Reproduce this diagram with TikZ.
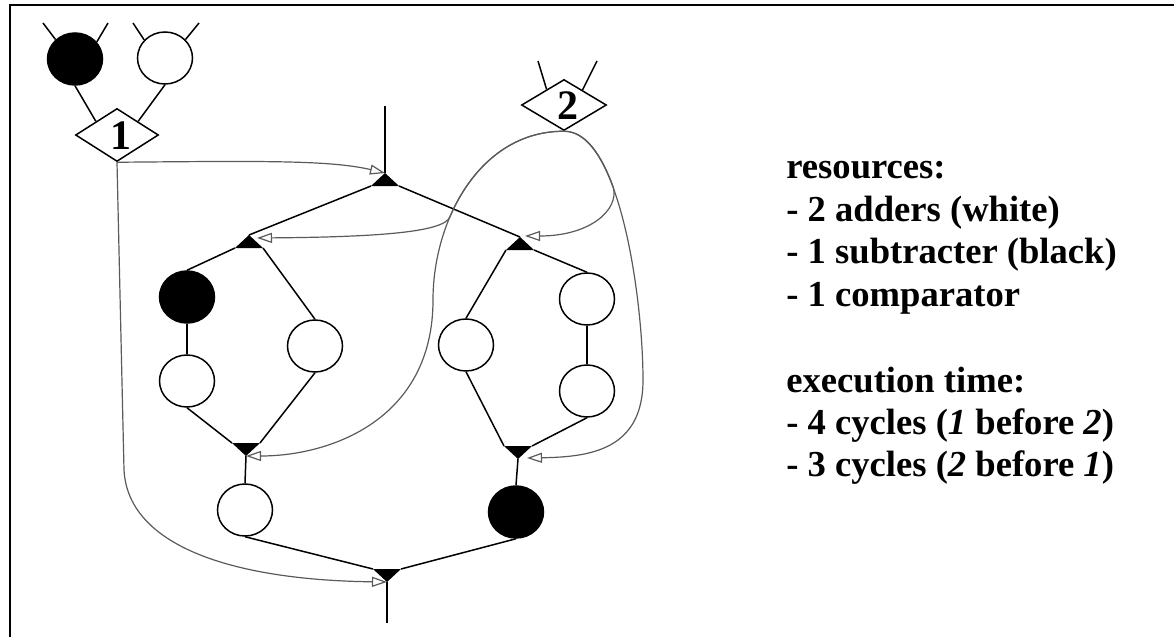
\documentclass[tikz,border=0pt]{standalone}
\usepackage{fontspec}
\setmainfont{Liberation Serif}
\usetikzlibrary{shapes.geometric,arrows.meta,calc}
\definecolor{ctrlgray}{RGB}{90,90,90}
\begin{document}
\begin{tikzpicture}[x=0.5pt,y=-0.5pt,
  wire/.style={line width=0.75pt,draw=black},
  ctrl/.style={line width=0.6pt,draw=ctrlgray,-{Triangle[open,length=7.5pt,width=5pt]}},
  op/.style={ellipse,draw,line width=0.75pt,inner sep=0pt,minimum width=27.5pt,minimum height=26pt},
  add/.style={op,fill=white},
  sub/.style={op,fill=black},
  cmp/.style={diamond,draw,line width=0.75pt,inner sep=0pt,fill=white},
  cmplabel/.style={inner sep=0pt,font=\fontsize{21}{25}\selectfont\bfseries},
  txt/.style={anchor=base west,inner sep=0pt,font=\fontsize{18.3}{21}\selectfont\bfseries},
  fork/.pic={
    \fill (0,0) -- (-14,13) -- (14,13) -- cycle;
    \coordinate (-t) at (0,0);
    \coordinate (-l) at (-14,13);
    \coordinate (-r) at (14,13);
  },
  join/.pic={
    \fill (0,0) -- (-14,-13) -- (14,-13) -- cycle;
    \coordinate (-b) at (0,0);
    \coordinate (-l) at (-14,-13);
    \coordinate (-r) at (14,-13);
  }]
\useasboundingbox (0,0) rectangle (1174,637);

% frame
\draw[line width=0.9pt] (1174,5) -- (10,5) -- (10,637);

% comparators with their operands
\node[sub] (tb) at (75,59) {};
\node[add] (tw) at (165,58) {};
\node[cmp,minimum width=41.5pt,minimum height=26.5pt] (d1) at (117,135) {};
\node[cmplabel] (n1) at (121,136) {1};
\node[cmp,minimum width=42.5pt,minimum height=25.5pt] (d2) at (564,105) {};
\node[cmplabel] (n2) at (568,106) {2};

% operations of the data-flow graph
\node[sub] (L1) at (187,297) {};
\node[add] (L2) at (187,381) {};
\node[add] (M)  at (315,346) {};
\node[add] (LB) at (245,510) {};
\node[add] (R1) at (466,345) {};
\node[add] (R2) at (587,299) {};
\node[add] (R3) at (587,391) {};
\node[sub] (RB) at (516,512) {};

% fork and join points
\pic (jt) at (385,173) {fork};
\pic (jl) at (249,235) {fork};
\pic (jr) at (520,237) {fork};
\pic (kl) at (246,456) {join};
\pic (kr) at (518,459) {join};
\pic (kb) at (387,582) {join};

% free ends
\coordinate (in0)  at (385,106);
\coordinate (out0) at (387,623);
\coordinate (tb1) at (43,23);
\coordinate (tb2) at (108,23);
\coordinate (tw1) at (133,23);
\coordinate (tw2) at (199,23);
\coordinate (d2a) at (538,61);
\coordinate (d2b) at (597,61);

% data edges
\draw[wire] (tb1) -- (tb.135);
\draw[wire] (tb2) -- (tb.38);
\draw[wire] (tw1) -- (tw.139);
\draw[wire] (tw2) -- (tw.42);
\draw[wire] (d2a) -- (d2.138);
\draw[wire] (d2b) -- (d2.39);
\draw[wire] (tb.south) -- (d1.north west);
\draw[wire] (tw.south) -- (d1.north east);

\draw[wire] (in0) -- (jt-t);
\draw[wire] (jt-l) -- (jl-t);
\draw[wire] (jt-r) -- (jr-t);
\draw[wire] (jl-l) -- (L1.north);
\draw[wire] (jl-r) -- (M.north);
\draw[wire] (L1.south) -- (L2.north);
\draw[wire] (L2.south) -- (kl-l);
\draw[wire] (M.south) -- (kl-r);
\draw[wire] (kl-b) -- (LB.north);
\draw[wire] (LB.south) -- (kb-l);
\draw[wire] (RB.south) -- (kb-r);
\draw[wire] (kb-b) -- (out0);
\draw[wire] (jr-l) -- (R1.north);
\draw[wire] (jr-r) -- (R2.north);
\draw[wire] (R2.south) -- (R3.north);
\draw[wire] (R1.south) -- (kr-l);
\draw[wire] (R3.south) -- (kr-r);
\draw[wire] (kr-b) -- (RB.north);

% control edges from the comparators
\draw[ctrl] (d1.south) .. controls (260,161) and (330,160) .. (jt-t);
\draw[ctrl] (d1.south) -- (124,470) .. controls (128,545) and (230,580) .. (kb-b);
\draw[ctrl] (d2.south) .. controls (480,131) and (433,220) .. (433,300)
            .. controls (433,420) and (330,456) .. (kl-b);
\draw[ctrl] (d2.south) .. controls (509.75,131) and (470.56,168.6) .. (449.9,216.9)
            .. controls (444,232) and (380,237) .. ($(jl-t)+(8,3)$);
\draw[ctrl] (d2.south) .. controls (585.35,131) and (601.32,154.14) .. (613.36,187.34)
            .. controls (619,210) and (590,236) .. ($(jr-t)+(5,-1)$);
\draw[ctrl] (d2.south) .. controls (620,131) and (643,300) .. (643,380)
            .. controls (643,450) and (590,457) .. ($(kr-b)+(9,-1)$);

% legend
\node[txt] (t1) at (786,178) {resources:};
\node[txt] (t2) at (786,221) {- 2 adders (white)};
\node[txt] (t3) at (786,263) {- 1 subtracter (black)};
\node[txt] (t4) at (786,306) {- 1 comparator};
\node[txt] (t5) at (786,392) {execution time:};
\node[txt] (t6) at (786,434) {- 4 cycles (\textit{1} before \textit{2})};
\node[txt] (t7) at (786,476) {- 3 cycles (\textit{2} before \textit{1})};
\end{tikzpicture}
\end{document}
